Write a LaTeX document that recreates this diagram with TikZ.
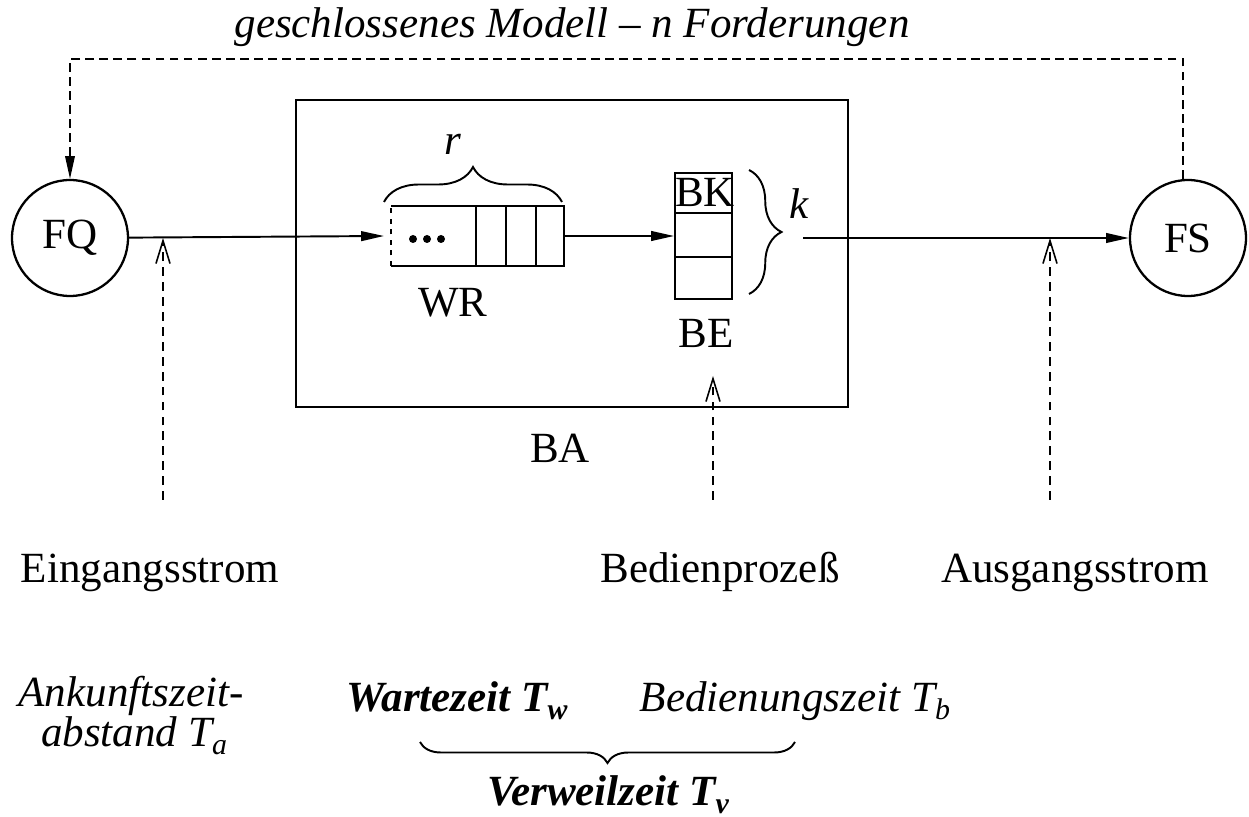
\documentclass[tikz,border=0pt]{standalone}
\usepackage{fontspec}
\setmainfont{Liberation Serif}
\usetikzlibrary{arrows.meta, positioning, calc, decorations.pathreplacing}
\newcommand{\lblfont}{\fontsize{24.5}{29}\selectfont}
\newcommand{\tsub}[1]{\raisebox{-4pt}{\fontsize{17}{17}\selectfont #1}}
\tikzset{
  station/.style={circle, draw, line width=1.3pt, minimum size=2.32cm, inner sep=0pt, font=\lblfont},
  store/.style={rectangle, inner sep=0pt, line width=1.1pt},
  flow/.style={-{Triangle[length=13pt, width=5.5pt]}, line width=1.1pt},
  feedback/.style={-{Triangle[length=13pt, width=5.5pt]}, line width=0.8pt, dash pattern=on 5pt off 3pt},
  probe/.style={-{Straight Barb[length=13pt, width=8pt]}, line width=0.9pt, dash pattern=on 5pt off 3.5pt},
  brc/.style={decorate, line width=1.1pt, decoration={brace, amplitude=#1}},
  txt/.style={font=\lblfont, anchor=base, inner sep=0pt},
}
\begin{document}
\begin{tikzpicture}[x=0.02cm, y=-0.02cm]
\useasboundingbox (0,0) rectangle (1249,817);

% stations
\node[station] (fq) at (70,238) {FQ};
\node[station] (fs) at (1188,238) {FS};

% service system
\node[draw, line width=1.6pt, minimum width=11.04cm, minimum height=6.14cm, inner sep=0pt] (ba) at (572,253.5) {};
\node[txt] (balbl) at (560,463) {BA};

% waiting room
\node[store, minimum width=3.42cm, minimum height=1.16cm] (queue) at (477.5,236) {};
\draw[line width=1.1pt] (queue.north west) -- (queue.north east) -- (queue.south east) -- (queue.south west);
\draw[line width=1.1pt, dashed] (queue.south west) -- (queue.north west);
\foreach \x in {476,506,536}
  \draw[line width=1.1pt] (\x,207) -- (\x,265);
\foreach \x in {413,427,441}
  \fill (\x,239) circle (4);
\draw[brc=0.7cm] (384,202) -- (562,202);
\node[txt] (rlbl) at (453,155) {\textit{r}};
\node[txt] (wrlbl) at (453,317) {WR};

% service unit
\node[store, draw, minimum width=1.14cm, minimum height=2.52cm] (be) at (703.5,236) {};
\draw[line width=1.1pt] (675,213) -- (732,213);
\draw[line width=1.1pt] (675,257) -- (732,257);
\node[txt] (bk) at (705,207) {BK};
\draw[brc=0.65cm] (749,170) -- (749,294);
\node[txt] (klbl) at (799,219) {\textit{k}};
\node[txt] (belbl) at (706,348) {BE};

% main flow
\coordinate (kout) at (803,238);
\draw[flow] (fq) -- ([xshift=-4pt]queue.west);
\draw[flow] (queue.east) -- (be.west);
\draw[flow] (kout) -- (fs.west);

% closed model
\coordinate (top) at (572,59);
\draw[feedback] (fs.north -| 1183,0) -- (1183,59) -- (top) -- (70,59) -- (fq.north);
\node[txt, font=\lblfont\itshape] (title) at (572,38) {geschlossenes Modell -- n Forderungen};

% streams
\node[txt] (ein) at (150,583) {Eingangsstrom};
\node[txt] (bed) at (720,583) {Bedienproze\ss};
\node[txt] (aus) at (1075,583) {Ausgangsstrom};
\coordinate (tin) at (163,500);
\coordinate (tbe) at (713,500);
\coordinate (tout) at (1050,500);
\draw[probe] (tin) -- (tin |- fq.east);
\draw[probe] (tbe) -- (713,376);
\draw[probe] (tout) -- (tout |- fs.west);

% times
\node[txt, font=\lblfont\itshape] (ta1) at (131,707) {Ankunftszeit-};
\node[txt, font=\lblfont\itshape] (ta2) at (134,747) {abstand \textit{T}\tsub{a}};
\node[txt, font=\lblfont\itshape\bfseries] (tw) at (457,712) {Wartezeit T\tsub{w}};
\node[txt, font=\lblfont\itshape] (tb) at (795,712) {Bedienungszeit T\tsub{b}};
\draw[brc=0.42cm] (795,742) -- (420,742);
\node[txt, font=\lblfont\itshape\bfseries] (tv) at (608,806) {Verweilzeit T\tsub{v}};
\end{tikzpicture}
\end{document}
